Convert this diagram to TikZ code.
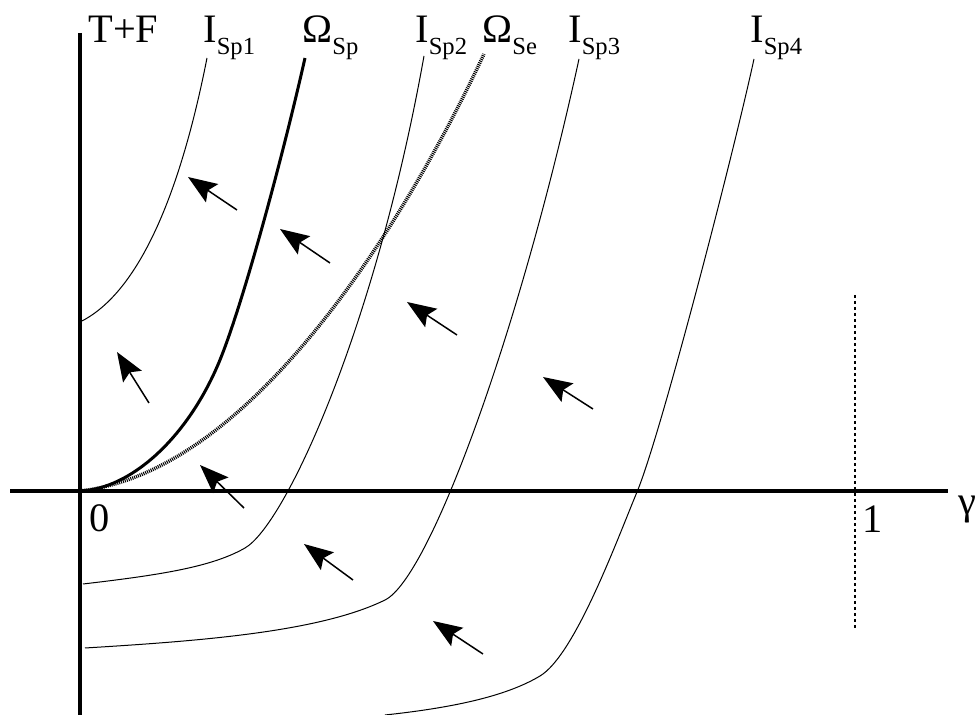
\documentclass[tikz,border=0pt]{standalone}
\usepackage{fontspec}
\setmainfont{Liberation Serif}
\newfontfamily\lblfont{Liberation Serif}
\usepackage{tikz}
\usetikzlibrary{arrows.meta, positioning}
\tikzset{
  axis/.style={line width=0.066cm},
  iso/.style={line width=0.02cm},
  sepline/.style={line width=0.06cm},
  sepdot/.style={line width=0.07cm, dash pattern=on 0.02cm off 0.02cm},
  unitline/.style={line width=0.05cm, dash pattern=on 0.06cm off 0.06cm},
  flow/.style={->, line width=0.03cm},
  lbl/.style={anchor=base west, inner sep=0pt, font=\lblfont\fontsize{23}{27}\selectfont}
}
\newcommand{\lsub}[1]{\raisebox{-6.5pt}{\fontsize{14}{16}\selectfont #1}}

\begin{document}
\begin{tikzpicture}[x=0.02cm, y=-0.02cm, >={Stealth[length=0.58cm, width=0.44cm, inset=0.1cm]}]
  \useasboundingbox (0,0) rectangle (975,715);
  % axes
  \draw[axis] (10,491) -- (948,491);
  \draw[axis] (80,33) -- (80,715);
  \draw[unitline] (855,295) -- (855,630);
  % iso-lines
  \draw[iso] (80,322) .. controls (135,295) and (178,205) .. (207,58);
  \draw[iso] (83,584) .. controls (160,575) and (212,567) .. (245,548)
    .. controls (285,525) and (375,330) .. (424,56);
  \draw[iso] (85,648) .. controls (200,641) and (320,632) .. (385,600)
    .. controls (430,578) and (520,330) .. (579,59);
  \draw[iso] (385,715) .. controls (450,708) and (505,697) .. (540,676)
    .. controls (575,655) and (617,540) .. (637,492)
    .. controls (660,437) and (732,160) .. (754,59);
  % separatrices
  \draw[sepline] (80,491) .. controls (130,489) and (185,440) .. (217,367)
    .. controls (240,315) and (282,160) .. (305,58);
  \draw[sepdot] (80,491) .. controls (270,470) and (430,170) .. (484,54);
  % flow arrows
  \foreach \xa/\ya/\xb/\yb in {237/210/188/177, 330/263/280/229, 457/335/407/302,
    593/409/543/377, 149/403/117/352, 244/508/200/465,
    353/580/304/544, 483/654/433/621}
    \draw[flow] (\xa,\ya) -- (\xb,\yb);
  % labels
  \node[lbl] (tf) at (88,43) {T+F};
  \node[lbl] (isp1) at (203,43) {I\lsub{Sp1}};
  \node[lbl] (osp) at (302,43) {Ω\lsub{Sp}};
  \node[lbl] (isp2) at (415,43) {I\lsub{Sp2}};
  \node[lbl] (ose) at (482,43) {Ω\lsub{Se}};
  \node[lbl] (isp3) at (568,43) {I\lsub{Sp3}};
  \node[lbl] (isp4) at (750,43) {I\lsub{Sp4}};
  \node[lbl] (zero) at (89,532) {0};
  \node[lbl] (one) at (862,533) {1};
  \node[lbl] (gam) at (958,515) {γ};
\end{tikzpicture}
\end{document}
